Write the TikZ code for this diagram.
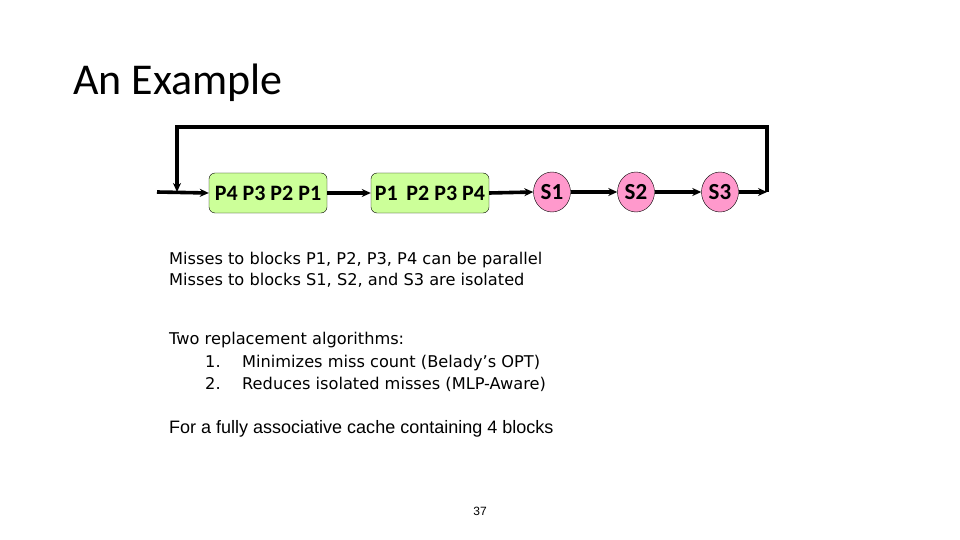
\documentclass[tikz,border=0pt]{standalone}
\usepackage{fontspec}
\setmainfont{Liberation Sans}
\newfontfamily\titlefont{Carlito}
\newfontfamily\blockfont{Carlito}
\newfontfamily\notefont{DejaVu Sans}
\usetikzlibrary{arrows.meta, positioning, shapes.geometric}
\definecolor{mygreen}{RGB}{204,255,153}
\definecolor{mypink}{RGB}{255,153,204}

\begin{document}
\begin{tikzpicture}[x=1pt,y=-1pt,
    flow/.style={line width=3.6pt,-{Stealth[length=9pt,width=8pt]}},
    pblock/.style={draw,fill=mygreen,rounded corners=6pt,minimum width=118pt,minimum height=40pt,inner sep=1pt,font=\blockfont\bfseries\fontsize{22}{25}\selectfont},
    sblock/.style={draw,ellipse,fill=mypink,minimum width=37pt,minimum height=40pt,inner sep=0pt,font=\blockfont\bfseries\fontsize{23}{26}\selectfont},
    note/.style={anchor=base west,inner sep=0pt,font=\notefont\fontsize{16.2}{19}\selectfont}]
    \useasboundingbox (0,0) rectangle (960,540);

    % Title
    \node[anchor=base west,inner sep=0pt,font=\titlefont\fontsize{44}{50}\selectfont] (title) at (73,95) {An Example};

    % Blocks
    \node[pblock] (pfirst) at (268,193) {P4 P3 P2 P1};
    \node[pblock] (psecond) at (430,193) {P1\, P2 P3 P4};
    \node[sblock] (sone) at (552,192) {S1};
    \node[sblock] (stwo) at (636,192) {S2};
    \node[sblock] (sthree) at (720,192) {S3};

    % Loop points
    \coordinate (start) at (157,192);
    \coordinate (join) at (177,192);
    \coordinate (finish) at (767,192);

    % Arrows
    \draw[flow] (start) -- (pfirst.west);
    \draw[flow] (pfirst.east) -- (psecond.west);
    \draw[flow] (psecond.east) -- (sone.west);
    \draw[flow] (sone.east) -- (stwo.west);
    \draw[flow] (stwo.east) -- (sthree.west);
    \draw[flow] (sthree.east) -- (finish);
    \draw[flow] (finish) -- ++(0,-65) -| (join);

    % Notes
    \node[note] (parallel) at (169,264) {Misses to blocks P1, P2, P3, P4 can be parallel};
    \node[note] (isolated) at (169,285) {Misses to blocks S1, S2, and S3 are isolated};
    \node[note] (algos) at (169,344) {Two replacement algorithms:};
    \node[note] (numone) at (205,367) {1.};
    \node[note] (algone) at (242,367) {Minimizes miss count (Belady’s OPT)};
    \node[note] (numtwo) at (205,389) {2.};
    \node[note] (algtwo) at (242,389) {Reduces isolated misses (MLP-Aware)};
    \node[anchor=base west,inner sep=0pt,font=\fontsize{18}{21}\selectfont] (cache) at (169,433) {For a fully associative cache containing 4 blocks};
    \node[anchor=base,inner sep=0pt,font=\fontsize{12}{14}\selectfont] (page) at (480,515) {37};
\end{tikzpicture}
\end{document}
